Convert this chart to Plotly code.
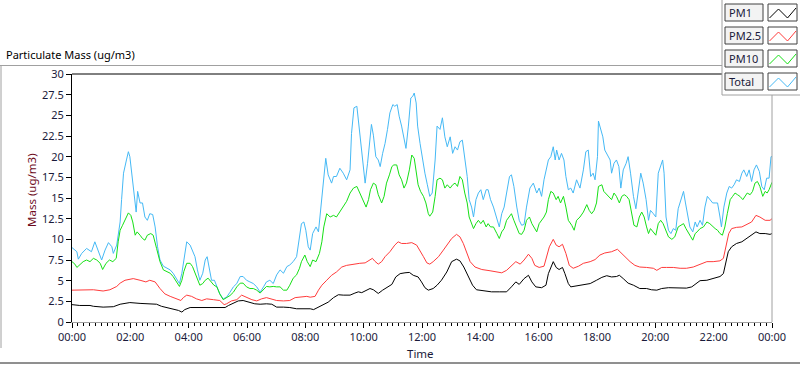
import pandas as pd
import plotly.graph_objects as go

# ---------------- data (minutes after midnight, ug/m3) ----------------
pm1_t = [0, 16, 37, 44, 64, 85, 99, 119, 140, 160,
         174, 184, 195, 208, 219, 226, 232, 243, 263, 284,
         304, 315, 322, 332, 342, 352, 363, 376, 387, 400,
         411, 421, 435, 448, 462, 476, 490,
         497, 507, 517, 527, 538, 548, 558, 572, 582, 589,
         596, 603, 613, 620, 630, 639, 647, 658, 666, 675,
         685, 694, 702, 712, 719, 726, 733, 743, 751, 760,
         771, 781, 791, 798, 806, 815, 824, 832, 846, 863,
         880, 894, 904, 913, 920, 930, 939, 946, 954, 966,
         975,
         980, 990, 996, 1002, 1009, 1014, 1021, 1026, 1038, 1052,
         1066, 1079, 1090, 1100, 1110, 1120, 1126, 1134, 1144, 1155,
         1168, 1182, 1192, 1203, 1213, 1227, 1240, 1251, 1264, 1275,
         1285, 1292, 1306, 1319, 1333, 1340, 1345, 1350, 1357, 1367,
         1378, 1388, 1398, 1407, 1415, 1426, 1436, 1440]
pm1_v = [2.1, 2.0, 2.0, 1.9, 1.8, 1.85, 2.15, 2.35, 2.25, 2.2,
         2.15, 1.9, 1.75, 1.5, 1.4, 1.2, 1.5, 1.75, 1.75, 1.8,
         1.8, 1.75, 2.0, 2.3, 2.55, 2.6, 2.4, 2.2, 2.15, 2.2,
         2.15, 1.8, 1.8, 1.75, 1.6, 1.6, 1.6,
         1.5, 1.8, 2.15, 2.4, 2.95, 3.3, 3.25, 3.25, 3.5, 3.65,
         3.55, 3.75, 4.05, 3.9, 3.45, 3.85, 4.15, 4.55, 5.45, 5.85,
         5.95, 6.0, 5.65, 5.45, 4.85, 4.15, 3.85, 4.05, 4.45, 5.05,
         6.05, 7.3, 7.6, 7.4, 6.65, 5.45, 4.45, 3.9, 3.75, 3.65,
         3.65, 3.65, 4.25, 4.85, 4.55, 5.25, 5.65, 4.85, 4.25, 4.15,
         4.45,
         5.85, 7.3, 6.6, 6.35, 6.6, 5.85, 4.65, 4.25, 4.35, 4.45,
         4.65, 5.05, 5.4, 5.6, 5.45, 5.5, 5.65, 5.25, 4.7, 4.45,
         4.05, 4.05, 3.9, 3.85, 4.05, 4.15, 4.15, 4.1, 4.1, 4.25,
         4.65, 5.0, 5.05, 5.25, 5.5, 5.85, 7.1, 8.5, 9.1, 9.5,
         9.7, 10.1, 10.5, 10.9, 10.7, 10.7, 10.6, 10.7]

pm25_t = [0, 30, 44, 64, 78, 92, 99, 109, 126, 140,
          152, 160, 171, 181, 191, 202, 215, 224, 229, 236,
          246, 256, 267, 277, 291, 304, 313, 318, 328, 339,
          349, 359, 370, 380, 390, 400, 411, 421, 435, 448,
          459, 469, 483, 490,
          500, 507, 514, 524, 534, 544, 555, 565, 579, 592,
          603, 613, 618, 623, 630, 637, 644, 654, 664, 671,
          678, 688, 699, 709, 716, 723, 730, 736, 743, 754,
          764, 771, 781, 791, 798, 805, 812, 819, 829, 843,
          860, 874, 884, 894, 904, 913, 922, 930, 939, 946,
          952, 961, 971,
          975, 982, 990, 996, 1002, 1009, 1016, 1023, 1031, 1042,
          1052, 1066, 1076, 1086, 1096, 1110, 1122, 1127, 1138, 1148,
          1158, 1168, 1182, 1196, 1203, 1213, 1223, 1237, 1251, 1264,
          1278, 1292, 1306, 1319, 1333, 1340, 1345, 1351, 1357, 1367,
          1378, 1388, 1398, 1407, 1415, 1426, 1436, 1440]
pm25_v = [3.85, 3.85, 3.9, 3.75, 3.9, 4.3, 4.7, 5.05, 5.25, 5.05,
          4.85, 5.05, 4.85, 4.05, 3.4, 3.1, 2.8, 2.6, 2.95, 3.25,
          3.1, 2.8, 2.6, 2.8, 2.7, 2.6, 2.1, 2.2, 2.55, 2.7,
          3.25, 3.0, 2.7, 2.55, 2.8, 2.95, 2.8, 2.6, 2.55, 2.6,
          2.95, 3.0, 3.1, 3.0,
          3.1, 3.85, 4.45, 5.05, 5.65, 6.05, 6.65, 6.85, 7.0, 7.1,
          7.15, 7.55, 7.7, 7.35, 7.0, 7.3, 7.9, 8.5, 9.3, 9.7,
          9.5, 9.5, 9.6, 9.3, 8.5, 7.9, 7.15, 7.0, 7.3, 7.9,
          8.7, 9.3, 10.1, 10.6, 10.3, 9.5, 8.3, 7.3, 6.65, 6.35,
          6.2, 6.05, 5.95, 6.25, 6.85, 7.3, 7.0, 7.5, 8.2, 7.7,
          6.85, 6.6, 6.75,
          7.7, 9.1, 10.0, 9.3, 9.1, 9.4, 8.3, 6.85, 6.5, 6.75,
          7.1, 7.3, 7.55, 8.1, 8.35, 8.5, 8.8, 8.5, 7.9, 7.3,
          6.85, 6.65, 6.6, 6.5, 6.25, 6.6, 6.6, 6.6, 6.5, 6.5,
          6.65, 7.0, 7.3, 7.3, 7.4, 7.7, 8.9, 10.7, 11.3, 11.45,
          11.5, 11.85, 12.1, 12.9, 12.7, 12.3, 12.3, 12.5]

pm10_t = [0, 6, 10, 16, 23, 30, 37, 44, 51, 58,
          63, 70, 77, 84, 91, 95, 99, 104, 109, 116,
          121, 125, 130, 134, 140, 145, 150, 155, 162, 167,
          174, 181, 188, 195, 202, 208, 215, 221, 226, 230,
          236, 243, 248, 253, 258, 263, 269, 274, 280, 287,
          292, 298, 304, 311, 318, 325, 332, 339, 346, 352,
          359, 366, 373, 380, 387, 394, 400, 407, 414, 421,
          428, 435, 442, 448, 455, 462, 468, 472, 479, 484,
          490,
          495, 502, 509, 514, 518, 524, 531, 538, 544, 551,
          558, 565, 572, 579, 586, 592, 599, 605, 610, 614,
          620, 625, 630, 637, 642, 647, 653, 658, 662, 668,
          673, 678, 683, 688, 694, 699, 704, 708, 712, 717,
          723, 728, 733, 736, 742, 747, 751, 757, 762, 767,
          772, 778, 783, 788, 793, 798, 803, 808, 813, 817,
          822, 826, 831, 836, 841, 846, 852, 856, 861, 867,
          874, 879, 884, 889, 894, 900, 904, 909, 915, 920,
          925, 930, 935, 941, 946, 950, 956, 961, 966, 971,
          976,
          980, 985, 990, 996, 1000, 1005, 1011, 1016, 1021, 1028,
          1033, 1038, 1045, 1052, 1059, 1064, 1069, 1074, 1079, 1083,
          1090, 1094, 1100, 1105, 1110, 1115, 1120, 1126, 1131, 1136,
          1141, 1146, 1151, 1156, 1162, 1167, 1172, 1177, 1182, 1186,
          1190, 1196, 1201, 1206, 1211, 1216, 1222, 1227, 1234, 1240,
          1247, 1252, 1258, 1263, 1268, 1273, 1277, 1282, 1286, 1292,
          1299, 1306, 1312, 1318, 1323, 1328, 1333, 1338, 1343, 1348,
          1354, 1359, 1364, 1369, 1374, 1380, 1384, 1389, 1395, 1400,
          1405, 1410, 1415, 1421, 1426, 1430, 1434, 1438, 1440]
pm10_v = [7.3, 7.0, 6.6, 6.9, 7.3, 7.5, 7.3, 7.7, 7.5, 7.1,
          6.35, 7.1, 7.5, 7.3, 7.7, 9.7, 11.1, 11.7, 12.3, 13.2,
          12.9, 12.1, 10.5, 10.9, 10.5, 10.1, 9.9, 10.5, 10.7, 10.5,
          8.9, 7.3, 6.3, 6.1, 5.9, 5.5, 4.85, 4.3, 5.05, 6.1,
          7.1, 7.1, 6.7, 5.9, 5.3, 4.45, 4.65, 5.05, 5.3, 4.85,
          4.45, 4.25, 3.4, 2.7, 2.95, 3.2, 3.6, 4.25, 4.7, 4.7,
          4.25, 4.05, 4.05, 3.85, 3.5, 3.9, 4.3, 4.25, 4.3, 4.25,
          4.25, 3.85, 3.85, 4.45, 5.3, 5.7, 6.5, 7.3, 8.1, 7.3,
          6.7,
          7.5, 7.3, 8.3, 9.7, 11.5, 13.1, 12.7, 12.9, 12.7, 13.3,
          13.9, 14.6, 15.6, 16.2, 16.4, 15.6, 14.8, 13.9, 14.8, 16.0,
          16.8, 16.6, 15.4, 14.4, 15.2, 16.8, 17.8, 18.8, 19.0, 19.0,
          17.8, 17.2, 16.2, 16.8, 18.4, 20.2, 19.8, 18.4, 16.6, 15.8,
          15.2, 14.4, 13.1, 12.8, 13.3, 15.2, 17.2, 17.4, 17.2, 16.2,
          16.6, 16.2, 16.6, 16.8, 16.4, 17.6, 17.2, 15.6, 14.4, 12.7,
          11.9, 11.3, 11.9, 12.3, 11.9, 12.3, 11.5, 11.9, 11.5, 11.5,
          10.7, 10.1, 10.9, 11.3, 12.3, 12.7, 13.1, 12.3, 11.5, 10.7,
          10.6, 11.1, 12.3, 12.7, 11.9, 11.5, 10.9, 11.9, 12.3, 12.7,
          13.3,
          14.8, 15.8, 15.6, 14.8, 15.2, 14.4, 15.2, 13.9, 12.3, 11.7,
          11.1, 12.3, 12.7, 13.3, 14.2, 13.5, 13.1, 13.5, 14.4, 16.4,
          16.6, 15.8, 15.4, 15.2, 14.8, 15.6, 15.2, 14.4, 15.2, 15.4,
          15.2, 14.8, 13.1, 11.7, 11.5, 12.7, 13.3, 12.7, 11.5, 10.7,
          11.3, 10.9, 10.5, 11.9, 12.3, 11.9, 11.1, 10.3, 10.0, 10.3,
          11.5, 11.7, 11.9, 11.3, 10.7, 10.3, 9.9, 10.7, 10.9, 11.3,
          11.5, 12.1, 11.9, 11.5, 11.3, 11.1, 10.7, 10.5, 11.5, 13.1,
          14.8, 15.2, 15.6, 15.4, 15.2, 14.8, 15.2, 15.6, 15.4, 15.8,
          16.8, 17.0, 16.4, 15.2, 15.8, 15.6, 16.0, 16.8, 16.9]

total_t = [0, 10, 13, 20, 30, 40, 47, 54, 61, 68,
           75, 82, 85, 92, 99, 102, 106, 112, 116, 119,
           123, 128, 132, 135, 140, 145, 150, 155, 160, 166,
           171, 176, 181, 188, 195, 202, 208, 215, 221, 226,
           230, 236, 243, 248, 253, 258, 263, 269, 274, 278,
           283, 287, 293, 298, 304, 311, 318, 325, 332, 339,
           346, 352, 359, 366, 373, 380, 387, 394, 400, 407,
           414, 421, 428, 435, 442, 448, 455, 462, 468, 472,
           477, 481, 486, 490,
           495, 502, 507, 512, 517, 522, 527, 534, 538, 544,
           551, 558, 565, 572, 575, 580, 586, 589, 592, 596,
           599, 603, 608, 613, 616, 620, 625, 630, 634, 639,
           644, 649, 654, 660, 664, 669, 673, 678, 683, 687,
           692, 697, 701, 704, 708, 711, 716, 721, 726, 731,
           736, 741, 747, 751, 757, 762, 767, 772, 778, 783,
           788, 793, 798, 803, 808, 813, 817, 822, 826, 831,
           836, 841, 846, 852, 856, 861, 867, 874, 879, 884,
           889, 894, 900, 904, 909, 915, 920, 925, 930, 935,
           942, 949, 956, 961, 966, 971, 976,
           980, 985, 990, 994, 997, 1002, 1007, 1012, 1016, 1021,
           1026, 1031, 1038, 1045, 1052, 1057, 1062, 1067, 1072, 1076,
           1081, 1083, 1088, 1092, 1096, 1101, 1107, 1110, 1115, 1120,
           1125, 1129, 1134, 1140, 1144, 1149, 1155, 1160, 1165, 1170,
           1175, 1181, 1186, 1190, 1196, 1201, 1206, 1211, 1215, 1218,
           1222, 1227, 1232, 1237, 1242, 1247, 1252, 1258, 1262, 1266,
           1271, 1277, 1282, 1286, 1292, 1297, 1302, 1307, 1312, 1318,
           1323, 1328, 1333, 1336, 1341, 1347, 1352, 1357, 1362, 1367,
           1373, 1378, 1382, 1388, 1393, 1398, 1403, 1408, 1414, 1419,
           1424, 1429, 1434, 1438, 1440]
total_v = [9.0, 8.5, 7.6, 8.3, 8.9, 8.5, 9.7, 8.7, 7.5, 8.7,
           9.6, 9.1, 8.3, 9.3, 12.1, 14.8, 18.0, 19.6, 20.6, 20.0,
           18.0, 14.8, 13.3, 15.8, 14.4, 14.4, 12.7, 12.3, 13.1, 13.0,
           11.5, 9.1, 7.5, 6.75, 6.5, 6.3, 5.9, 5.3, 4.65, 5.9,
           7.5, 9.7, 9.3, 8.7, 7.9, 6.3, 5.05, 5.9, 7.5, 7.9,
           6.5, 5.05, 5.05, 4.25, 3.4, 2.8, 3.0, 3.6, 4.25, 4.65,
           5.5, 5.5, 5.05, 4.85, 4.65, 4.25, 3.6, 4.25, 4.85, 5.05,
           4.65, 5.7, 6.3, 5.9, 6.7, 6.9, 7.3, 7.9, 10.3, 11.9,
           12.1, 11.1, 9.1, 8.7,
           10.7, 11.5, 10.9, 13.9, 17.2, 19.8, 17.8, 16.8, 17.6, 17.6,
           18.6, 18.0, 17.2, 18.4, 22.8, 25.9, 26.1, 24.3, 23.3, 20.4,
           18.8, 16.8, 19.2, 22.0, 23.9, 22.6, 20.0, 19.6, 18.8, 20.4,
           21.6, 23.3, 25.3, 26.3, 26.1, 26.3, 24.9, 23.7, 22.0, 21.0,
           23.7, 27.1, 27.3, 27.7, 26.5, 23.7, 21.6, 19.6, 18.0, 16.6,
           15.2, 15.6, 19.6, 23.7, 23.3, 24.7, 22.4, 21.2, 22.4, 20.4,
           21.2, 20.8, 21.8, 22.0, 19.6, 17.6, 14.8, 13.9, 12.7, 14.8,
           15.6, 16.0, 14.8, 16.0, 16.0, 14.8, 13.9, 12.3, 11.5, 13.1,
           13.9, 15.6, 17.6, 17.8, 16.4, 13.9, 12.3, 11.7, 11.8, 13.9,
           16.2, 16.8, 15.6, 16.2, 15.2, 17.2, 18.4,
           19.6, 20.0, 21.2, 19.6, 20.8, 19.6, 20.4, 19.6, 17.6, 16.0,
           16.2, 15.6, 17.2, 16.2, 18.4, 20.6, 20.8, 17.6, 18.0, 17.2,
           20.0, 24.3, 23.3, 22.4, 20.8, 20.2, 19.6, 18.0, 19.2, 19.6,
           18.8, 16.2, 18.4, 19.2, 20.0, 18.0, 15.2, 13.7, 15.6, 18.0,
           16.8, 14.8, 12.3, 13.5, 13.1, 12.7, 18.0, 18.8, 19.6, 18.0,
           12.7, 11.1, 10.7, 11.3, 11.1, 13.7, 14.8, 15.8, 14.4, 13.1,
           11.5, 10.9, 12.1, 11.5, 12.3, 11.7, 13.9, 15.2, 14.8, 14.4,
           14.4, 14.4, 12.7, 11.5, 13.9, 15.6, 16.4, 16.2, 16.6, 17.2,
           17.0, 18.0, 18.4, 17.6, 18.4, 17.0, 18.4, 19.0, 18.2, 16.4,
           16.0, 17.4, 17.4, 20.0, 20.0]

series_names = ["PM1", "PM2.5", "PM10", "Total"]
series_colors = ["#000000", "#ff3b3b", "#16e016", "#45b9f5"]
series_data = [(pm1_t, pm1_v), (pm25_t, pm25_v), (pm10_t, pm10_v), (total_t, total_v)]

day0 = pd.Timestamp("2024-01-01")

# ---------------- layout helpers (pixel -> paper) ----------------
W, H = 800, 365
L, R, T, B = 72, 28, 74, 43
PW, PH = W - L - R, H - T - B


def px(x):
    return (x - L) / PW


def py(y):
    return (H - B - y) / PH


FONT = "Noto Sans, Open Sans, DejaVu Sans, sans-serif"
TXT = "#1a1a3a"

fig = go.Figure()
for name, color, (t, v) in zip(series_names[::-1], series_colors[::-1], series_data[::-1]):
    fig.add_trace(go.Scatter(
        x=day0 + pd.to_timedelta(t, unit="min"), y=v, mode="lines", name=name,
        line=dict(color=color, width=1), showlegend=False, hoverinfo="skip"))

shapes = []
annos = []


def line(x0, y0, x1, y1, color, width=1):
    shapes.append(dict(type="line", xref="paper", yref="paper",
                       x0=px(x0), y0=py(y0), x1=px(x1), y1=py(y1),
                       line=dict(color=color, width=width), layer="above"))


# frame lines
line(0, 65.5, 722, 65.5, "#a0a0a0")
line(72, 74, 722, 74, "#000000")
line(772, 95, 772, 322, "#a0a0a0")
line(722, 0, 722, 95, "#a0a0a0")
line(722, 95, 800, 95, "#a0a0a0")
line(1, 66, 1, 348, "#a0a0a0")
line(0, 363, 800, 363, "#202020")

# custom legend
for i, (name, color) in enumerate(zip(series_names, series_colors)):
    top = 4 + 23 * i
    bot = top + 17
    shapes.append(dict(type="rect", xref="paper", yref="paper",
                       x0=px(725), y0=py(bot), x1=px(763), y1=py(top),
                       line=dict(color="#404040", width=1), fillcolor="#f3f3f3", layer="above"))
    shapes.append(dict(type="rect", xref="paper", yref="paper",
                       x0=px(768), y0=py(bot), x1=px(797), y1=py(top),
                       line=dict(color="#404040", width=1), fillcolor="#ffffff", layer="above"))
    zz = [(769.5, bot - 3), (778.5, top + 5), (787.5, bot - 3), (796, top + 4)]
    path = "M " + " L ".join(f"{px(a)},{py(b)}" for a, b in zz)
    shapes.append(dict(type="path", xref="paper", yref="paper", path=path,
                       line=dict(color=color, width=1), layer="above"))
    annos.append(dict(text=name, xref="paper", yref="paper", x=px(726.5), y=py((top + bot) / 2),
                      xanchor="left", yanchor="middle", showarrow=False,
                      font=dict(family=FONT, size=11, color=TXT)))

# titles
annos.append(dict(text="Particulate Mass (ug/m3)", xref="paper", yref="paper",
                  x=px(4), y=py(55), xanchor="left", yanchor="middle", showarrow=False,
                  font=dict(family=FONT, size=11, color="#000000")))
annos.append(dict(text="Mass (ug/m3)", xref="paper", yref="paper", x=px(31), y=py(190),
                  xanchor="center", yanchor="middle", textangle=-90, showarrow=False,
                  font=dict(family=FONT, size=11.5, color="#6e0b1c")))
annos.append(dict(text="Time", xref="paper", yref="paper", x=px(420), y=py(353),
                  xanchor="center", yanchor="middle", showarrow=False,
                  font=dict(family=FONT, size=11.5, color=TXT)))

fig.update_layout(
    width=W, height=H,
    margin=dict(l=L, r=R, t=T, b=B, pad=0),
    paper_bgcolor="#ffffff", plot_bgcolor="#ffffff",
    shapes=shapes, annotations=annos, showlegend=False,
    font=dict(family=FONT, size=11, color=TXT),
)
fig.update_xaxes(
    type="date", range=[day0, day0 + pd.Timedelta(days=1)],
    tickformat="%H:%M", dtick=2 * 3600 * 1000, tick0=day0,
    ticks="outside", ticklen=5, tickcolor="#000000", tickwidth=1,
    showline=True, linecolor="#a0a0a0", linewidth=1,
    showgrid=False, zeroline=False,
    minor=dict(dtick=12 * 60 * 1000, ticks="outside", ticklen=3, tickcolor="#000000", showgrid=False),
    tickfont=dict(family=FONT, size=11, color=TXT),
)
fig.update_yaxes(
    range=[0, 30], tick0=0, dtick=2.5,
    ticks="outside", ticklen=5, tickcolor="#000000", tickwidth=1,
    showline=True, linecolor="#000000", linewidth=1,
    showgrid=False, zeroline=False,
    tickfont=dict(family=FONT, size=11, color=TXT),
)

fig.write_html("out.html", config={"displayModeBar": False, "staticPlot": True},
               post_script="document.body.style.margin='0';document.body.style.overflow='hidden';")
